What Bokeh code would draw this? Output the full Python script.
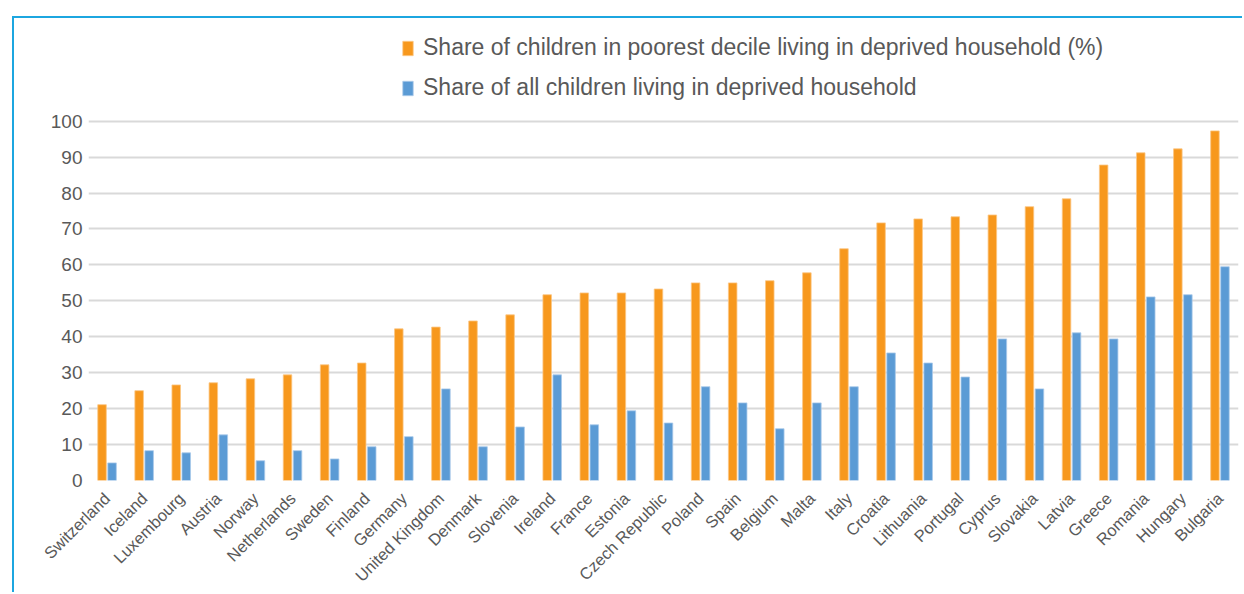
from math import pi
from bokeh.plotting import figure
from bokeh.models import (ColumnDataSource, FactorRange, FixedTicker,
                          Legend, LegendItem)
from bokeh.transform import dodge
from bokeh.embed import file_html
from bokeh.resources import INLINE

countries = ["Switzerland", "Iceland", "Luxembourg", "Austria", "Norway", "Netherlands",
             "Sweden", "Finland", "Germany", "United Kingdom", "Denmark", "Slovenia",
             "Ireland", "France", "Estonia", "Czech Republic", "Poland", "Spain",
             "Belgium", "Malta", "Italy", "Croatia", "Lithuania", "Portugal", "Cyprus",
             "Slovakia", "Latvia", "Greece", "Romania", "Hungary", "Bulgaria"]
poorest_decile = [21.1, 25.0, 26.6, 27.2, 28.3, 29.4, 32.2, 32.7, 42.2, 42.7, 44.4, 46.1,
                  51.7, 52.2, 52.2, 53.3, 55.0, 55.0, 55.6, 57.8, 64.5, 71.7, 72.8, 73.4,
                  73.9, 76.2, 78.4, 87.8, 91.2, 92.3, 97.3]
all_children = [4.9, 8.3, 7.7, 12.7, 5.5, 8.3, 6.0, 9.4, 12.2, 25.5, 9.4, 14.9,
                29.4, 15.5, 19.4, 16.0, 26.1, 21.6, 14.4, 21.6, 26.1, 35.5, 32.7, 28.8,
                39.4, 25.5, 41.1, 39.4, 51.1, 51.7, 59.5]
y_ticks = [0, 10, 20, 30, 40, 50, 60, 70, 80, 90, 100]
series_labels = ["Share of children in poorest decile living in deprived household (%)",
                 "Share of all children living in deprived household"]

FONT = "Liberation Sans"
GREY = "#595959"
ORANGE = "#F7981D"
BLUE = "#5B9BD5"
FRAME_BLUE = "#1CA6E0"

src = ColumnDataSource(dict(country=countries, poorest=poorest_decile, allc=all_children))

p = figure(x_range=FactorRange(factors=countries, range_padding=0, factor_padding=0),
           y_range=(0, 128.58), width=1230, height=576,
           output_backend="svg", toolbar_location=None,
           min_border_left=74, min_border_right=6, min_border_top=0, min_border_bottom=114)
p.outline_line_color = None
p.background_fill_color = "white"
p.border_fill_color = "white"
p.styles = {"margin-left": "12px", "margin-top": "16px",
            "border-left": "2px solid " + FRAME_BLUE,
            "border-top": "2px solid " + FRAME_BLUE}

r1 = p.vbar(x=dodge("country", -0.135, range=p.x_range), top="poorest", width=0.23,
            source=src, fill_color=ORANGE, line_color="#FBC784", line_width=0.8)
r2 = p.vbar(x=dodge("country", 0.135, range=p.x_range), top="allc", width=0.23,
            source=src, fill_color=BLUE, line_color="#A9C9EA", line_width=0.8)

p.xgrid.visible = False
p.ygrid.ticker = FixedTicker(ticks=y_ticks)
p.ygrid.grid_line_color = "#D9D9D9"
p.ygrid.grid_line_width = 2

ya = p.yaxis[0]
ya.ticker = FixedTicker(ticks=y_ticks)
ya.axis_line_color = None
ya.major_tick_line_color = None
ya.minor_tick_line_color = None
ya.major_tick_out = 0
ya.major_tick_in = 0
ya.major_label_standoff = 6
ya.major_label_text_font = FONT
ya.major_label_text_font_size = "19px"
ya.major_label_text_color = GREY

xa = p.xaxis[0]
xa.axis_line_color = None
xa.major_tick_line_color = None
xa.minor_tick_line_color = None
xa.major_tick_out = 0
xa.major_tick_in = 0
xa.major_label_standoff = 15
xa.major_label_orientation = pi / 4
xa.major_label_text_font = FONT
xa.major_label_text_font_size = "16.5px"
xa.major_label_text_line_height = 0.7
xa.major_label_text_color = GREY

legend = Legend(items=[LegendItem(label=series_labels[0], renderers=[r1]),
                       LegendItem(label=series_labels[1], renderers=[r2])],
                location=(313, 379), orientation="vertical",
                glyph_width=13, glyph_height=18, label_standoff=9, spacing=13,
                padding=0, margin=0, border_line_color=None, background_fill_alpha=0,
                label_text_font=FONT, label_text_font_size="23px", label_text_color=GREY)
p.add_layout(legend)

open("out.html", "w").write(file_html(p, INLINE))
